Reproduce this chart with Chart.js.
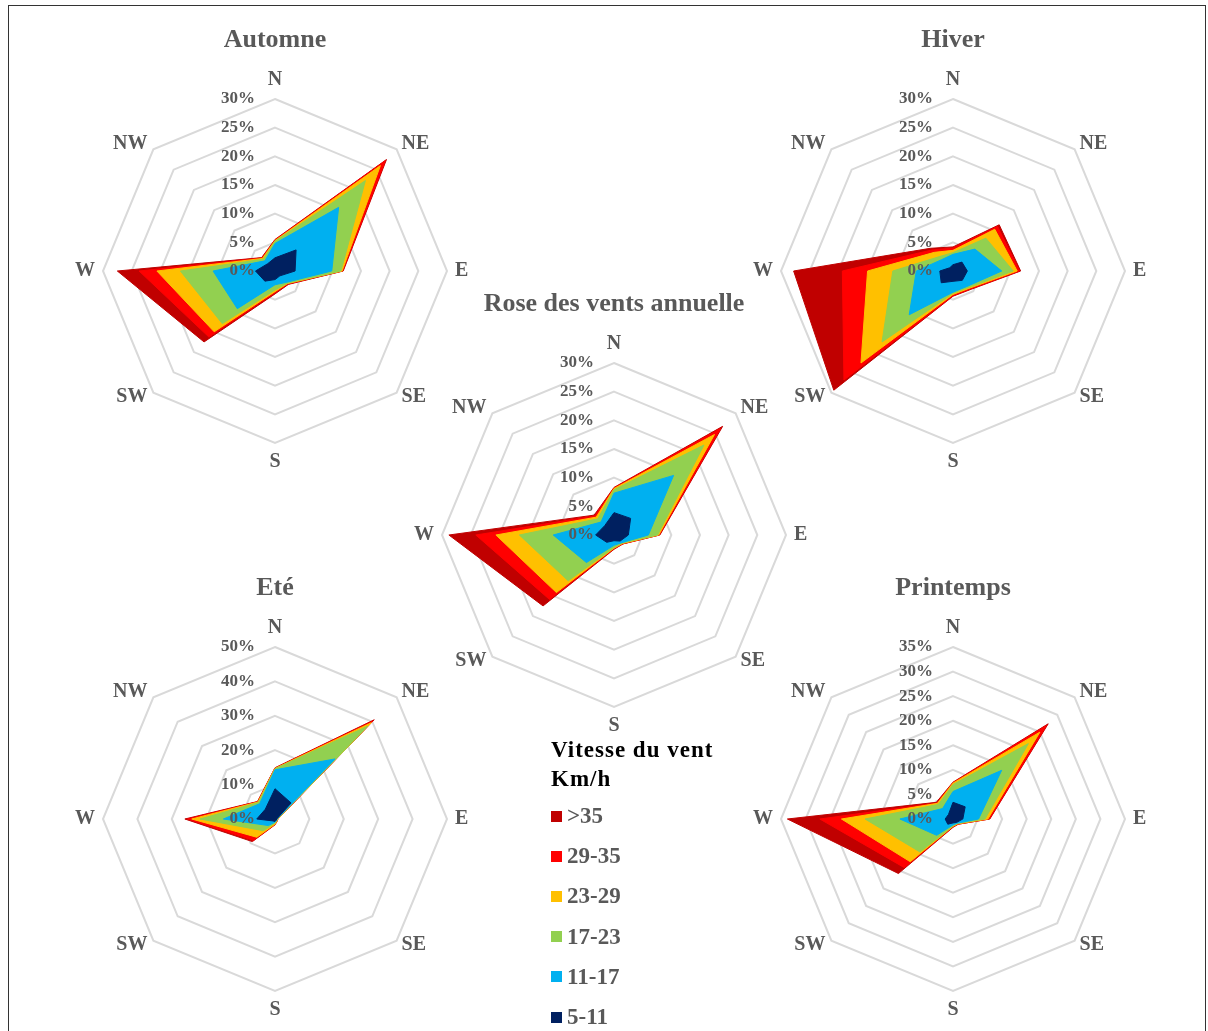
<!DOCTYPE html>
<html lang="fr">
<head>
<meta charset="utf-8">
<title>Rose des vents</title>
<script src="https://cdn.jsdelivr.net/npm/chart.js@4.4.1/dist/chart.umd.min.js"></script>
<style>
  html, body { margin: 0; padding: 0; background: #fff; }
  body { width: 1208px; height: 1031px; position: relative; overflow: hidden; }
  .cadre { position: absolute; left: 8px; top: 5px; width: 1198px; height: 1040px; border: 1.5px solid #333; box-sizing: border-box; }
  .rose { position: absolute; width: 408px; height: 451px; }
  .legende { position: absolute; left: 551px; top: 735px; font-family: 'Liberation Serif', serif; font-weight: bold; }
  .legende .titre { color: #000; font-size: 23px; line-height: 29px; letter-spacing: 1px; }
  .legende .items { margin-top: 3px; }
  .legende .item { height: 40.2px; display: flex; align-items: center; color: #595959; font-size: 23px; }
  .legende .carre { width: 11px; height: 11px; margin-right: 5px; }
</style>
</head>
<body>
<div class="cadre"></div>
<div class="rose" style="left:71px; top:25px;"><canvas id="automne"></canvas></div>
<div class="rose" style="left:749px; top:25px;"><canvas id="hiver"></canvas></div>
<div class="rose" style="left:71px; top:573px;"><canvas id="ete"></canvas></div>
<div class="rose" style="left:749px; top:573px;"><canvas id="printemps"></canvas></div>
<div class="rose" style="left:410px; top:289px;"><canvas id="annuelle"></canvas></div>
<div class="legende" id="legende">
  <div class="titre">Vitesse du vent<br>Km/h</div>
  <div class="items" id="items"></div>
</div>
<script>
// directions (sens horaire depuis le nord)
const directions = ['N', 'NE', 'E', 'SE', 'S', 'SW', 'W', 'NW'];
// classes de vitesse, de la plus forte à la plus faible
const classes = ['>35', '29-35', '23-29', '17-23', '11-17', '5-11'];
const couleurs = ['#C00000', '#FF0000', '#FFC000', '#92D050', '#00B0F0', '#002060'];

// fréquences cumulées (%) par classe, même ordre que "classes"
const automne = [
  [5.5, 27.5, 11.9, 3.3, 4.0, 17.5, 27.5, 3.3],
  [5.4, 27.2, 11.8, 3.2, 3.8, 16.3, 23.7, 3.2],
  [5.3, 26.0, 11.7, 3.1, 3.6, 15.0, 20.6, 3.1],
  [5.2, 22.3, 11.5, 3.0, 3.3, 13.0, 16.5, 2.9],
  [4.8, 15.7, 9.9, 2.8, 2.4, 9.3, 10.8, 2.5],
  [2.3, 5.2, 3.5, 1.2, 1.5, 2.5, 3.4, 1.8]
];
const hiver = [
  [4.2, 11.4, 11.8, 4.5, 4.4, 29.4, 27.8, 5.6],
  [4.0, 11.0, 11.6, 4.4, 4.3, 26.9, 19.3, 5.2],
  [3.6, 10.3, 11.2, 4.2, 4.1, 22.7, 14.9, 4.6],
  [3.2, 8.1, 10.5, 4.0, 3.9, 17.5, 10.5, 3.5],
  [2.9, 5.4, 8.5, 3.7, 3.7, 10.8, 6.4, 2.8],
  [1.1, 2.2, 2.5, 2.3, 1.8, 2.9, 2.3, 0.8]
];
const annuelle = [
  [8.3, 26.8, 8.0, 2.2, 2.5, 17.5, 28.8, 4.9],
  [8.2, 26.3, 7.9, 2.2, 2.4, 15.9, 24.1, 4.7],
  [8.1, 24.8, 7.8, 2.1, 2.3, 14.2, 20.6, 4.4],
  [7.9, 22.2, 7.6, 2.0, 2.2, 11.3, 16.5, 4.0],
  [7.3, 14.7, 6.0, 1.9, 1.8, 6.8, 10.6, 3.2],
  [3.9, 4.1, 2.5, 1.5, 1.0, 1.8, 3.2, 2.3]
];
const ete = [
  [14.9, 40.8, 0.9, 0.9, 1.7, 9.3, 26.2, 7.2],
  [14.8, 40.3, 0.8, 0.8, 1.6, 8.8, 25.4, 7.1],
  [14.7, 39.6, 0.8, 0.8, 1.5, 7.5, 24.2, 7.0],
  [14.6, 38.2, 0.7, 0.7, 1.2, 4.8, 21.8, 6.8],
  [14.3, 24.7, 0.6, 0.6, 0.9, 2.7, 15.0, 6.3],
  [8.8, 6.6, 0.5, 0.5, 0.7, 0.8, 5.3, 4.0]
];
const printemps = [
  [7.5, 27.4, 7.5, 1.5, 1.7, 15.7, 33.7, 4.8],
  [7.4, 26.9, 7.4, 1.5, 1.6, 14.0, 27.1, 4.6],
  [7.3, 25.0, 7.1, 1.4, 1.5, 12.3, 22.7, 4.5],
  [7.0, 21.7, 6.5, 1.3, 1.4, 9.5, 17.9, 4.2],
  [5.6, 14.0, 5.2, 1.2, 1.2, 4.7, 10.8, 3.0],
  [3.4, 3.5, 2.0, 1.0, 0.8, 1.5, 1.6, 1.3]
];

const roses = [
  { id: 'automne', titre: 'Automne', valeurs: automne, max: 30, pas: 5 },
  { id: 'hiver', titre: 'Hiver', valeurs: hiver, max: 30, pas: 5 },
  { id: 'ete', titre: 'Eté', valeurs: ete, max: 50, pas: 10 },
  { id: 'printemps', titre: 'Printemps', valeurs: printemps, max: 35, pas: 5 },
  { id: 'annuelle', titre: 'Rose des vents annuelle', valeurs: annuelle, max: 30, pas: 5 }
];

const police = "'Liberation Serif', 'Times New Roman', serif";
const gris = '#595959';

// étiquettes de l'axe à gauche du rayon nord, dessinées par-dessus les surfaces
const etiquettesAxe = {
  id: 'etiquettesAxe',
  afterDatasetsDraw(chart) {
    const r = chart.scales.r;
    const ctx = chart.ctx;
    ctx.save();
    ctx.font = 'bold 17px ' + police;
    ctx.fillStyle = gris;
    ctx.textAlign = 'right';
    ctx.textBaseline = 'middle';
    r.ticks.forEach(t => {
      const d = r.getDistanceFromCenterForValue(t.value);
      ctx.fillText(t.value + '%', r.xCenter - 20, r.yCenter - d);
    });
    ctx.restore();
  }
};

// noms des directions placés comme dans Excel (à côté des sommets)
const etiquettesPoints = {
  id: 'etiquettesPoints',
  afterDraw(chart) {
    const r = chart.scales.r;
    const ctx = chart.ctx;
    ctx.save();
    ctx.font = 'bold 20px ' + police;
    ctx.fillStyle = gris;
    ctx.textBaseline = 'middle';
    chart.data.labels.forEach((lab, i) => {
      const p = r.getPointPosition(i, r.drawingArea);
      const a = r.getIndexAngle(i);
      const dx = Math.sin(a), dy = -Math.cos(a);
      let x = p.x, y = p.y;
      if (Math.abs(dx) < 0.1) {
        ctx.textAlign = 'center';
        y += dy < 0 ? -19 : 19;
      } else if (Math.abs(dy) < 0.1) {
        ctx.textAlign = dx > 0 ? 'left' : 'right';
        x += dx > 0 ? 8 : -8;
      } else {
        ctx.textAlign = dx > 0 ? 'left' : 'right';
        x += dx > 0 ? 5 : -6;
        y += dy < 0 ? -6 : 4;
      }
      ctx.fillText(lab, x, y);
    });
    ctx.restore();
  }
};

roses.forEach(rose => {
  // la classe la plus faible en premier pour qu'elle soit dessinée au-dessus
  const datasets = [];
  for (let i = classes.length - 1; i >= 0; i--) {
    datasets.push({
      label: classes[i],
      data: rose.valeurs[i],
      backgroundColor: couleurs[i],
      borderColor: couleurs[i],
      borderWidth: 1,
      fill: true,
      pointRadius: 0,
      tension: 0
    });
  }

  new Chart(document.getElementById(rose.id), {
    type: 'radar',
    data: { labels: directions, datasets: datasets },
    options: {
      responsive: true,
      maintainAspectRatio: false,
      animation: false,
      layout: { padding: { left: 32, right: 32, top: 0, bottom: 32 } },
      plugins: {
        legend: { display: false },
        tooltip: { enabled: false },
        title: {
          display: true,
          text: rose.titre,
          color: gris,
          font: { family: police, size: 26, weight: 'bold' },
          padding: { top: 0, bottom: 43 }
        }
      },
      scales: {
        r: {
          min: 0,
          max: rose.max,
          ticks: { stepSize: rose.pas, display: false },
          grid: { color: '#D9D9D9', lineWidth: 2 },
          angleLines: { display: false },
          pointLabels: { display: false }
        }
      }
    },
    plugins: [etiquettesAxe, etiquettesPoints]
  });
});

// légende commune
const items = document.getElementById('items');
classes.forEach((c, i) => {
  const ligne = document.createElement('div');
  ligne.className = 'item';
  const carre = document.createElement('span');
  carre.className = 'carre';
  carre.style.background = couleurs[i];
  const texte = document.createElement('span');
  texte.textContent = c;
  ligne.appendChild(carre);
  ligne.appendChild(texte);
  items.appendChild(ligne);
});
</script>
</body>
</html>
